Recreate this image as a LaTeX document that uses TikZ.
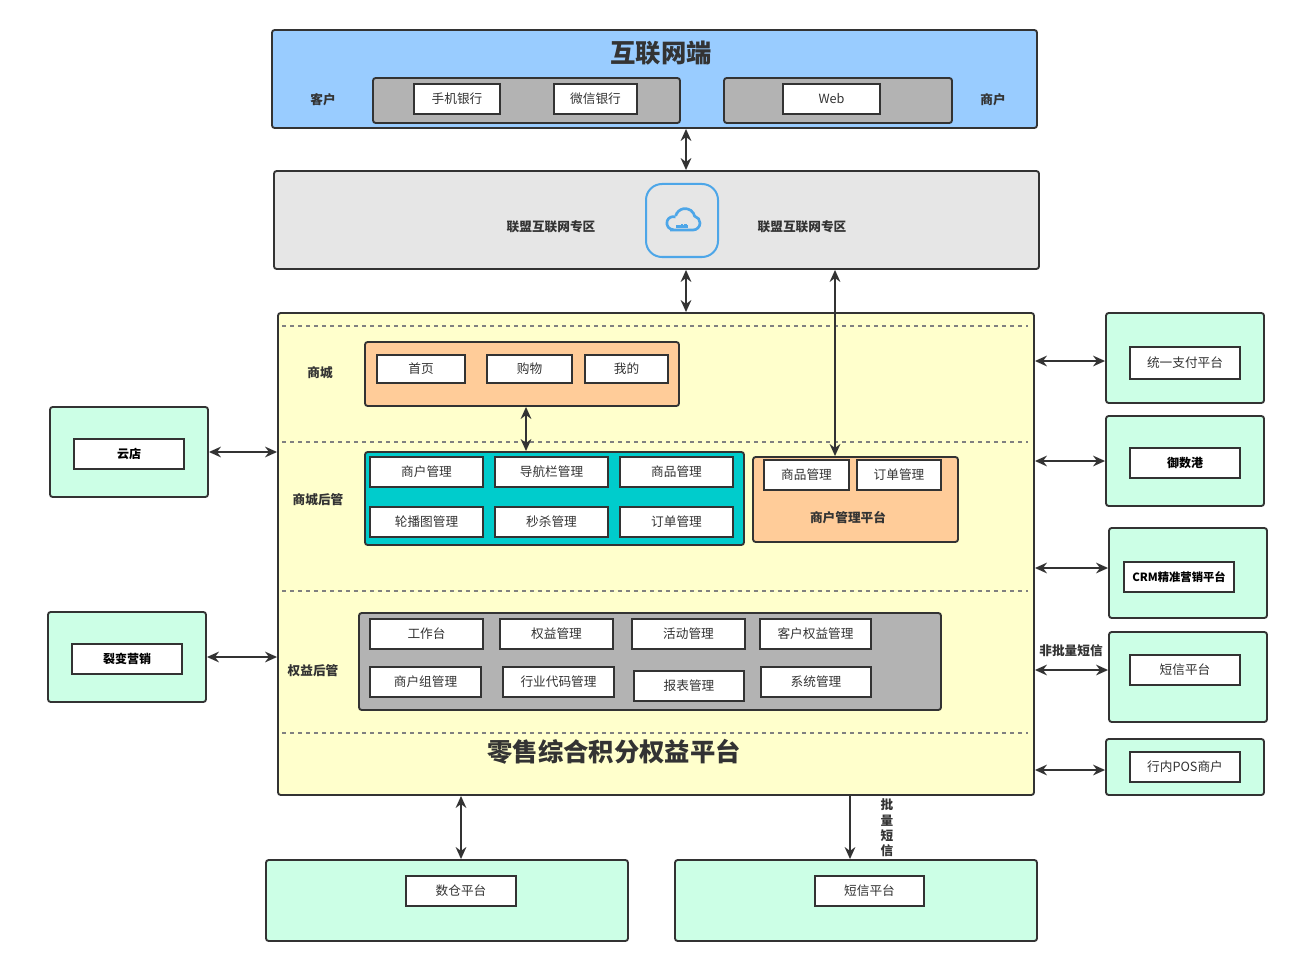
\documentclass[tikz,border=0pt]{standalone}
\usepackage{fontspec}
\setmainfont{Noto Sans CJK SC}
\usetikzlibrary{fit,arrows.meta}
\definecolor{blueT}{HTML}{99CCFF}
\definecolor{grayZ}{HTML}{E6E6E6}
\definecolor{grayB}{HTML}{B3B3B3}
\definecolor{yel}{HTML}{FFFFCC}
\definecolor{ora}{HTML}{FFCC99}
\definecolor{teal}{HTML}{00CCCC}
\definecolor{mint}{HTML}{CCFFE6}
\definecolor{ln}{HTML}{333333}
\definecolor{cl}{HTML}{4DA6E8}
\tikzset{
 bx/.style={draw=ln,line width=1.4pt,rounded corners=2pt,inner sep=0pt},
 btn/.style={draw=ln,line width=1.2pt,fill=white,inner sep=0pt},
 t/.style={font=\fontsize{9.5}{10}\selectfont,text=ln},
 tb/.style={font=\fontsize{9.5}{10}\selectfont\bfseries,text=ln},
 tk/.style={font=\fontsize{9}{10}\selectfont\bfseries,text=black},
 ar/.style={line width=1.5pt,draw=ln,{Stealth[length=9pt,width=8pt]}-{Stealth[length=9pt,width=8pt]}},
 ar1/.style={line width=1.5pt,draw=ln,-{Stealth[length=9pt,width=8pt]}},
 dsh/.style={draw=gray,dashed,line width=0.8pt},
}
\newcommand\Bx[6]{\node[#1,fit={(#2,#3)(#4,#5)}] (#6) {};}
\newcommand\Bt[7]{\node[#1,fit={(#2,#3)(#4,#5)}] (#6) {}; \node[t] at (#6) {#7};}
\begin{document}
\begin{tikzpicture}[x=0.75pt,y=-0.75pt]
\useasboundingbox (0,0) rectangle (1291,966);
% top
\Bx{bx,fill=blueT}{272}{30}{1037}{128}{top}
\node[font=\fontsize{19}{20}\selectfont\bfseries,text=ln] at (661,53) {互联网端};
\node[tb] at (323,100) {客户};
\node[tb] at (993,100) {商户};
\Bx{bx,fill=grayB}{373}{78}{680}{123}{g1}
\Bx{bx,fill=grayB}{724}{78}{952}{123}{g2}
\Bt{btn}{414}{84}{500}{114}{b1}{手机银行}
\Bt{btn}{554}{84}{637}{114}{b2}{微信银行}
\Bt{btn}{783}{84}{880}{114}{b3}{Web}
% zone
\Bx{bx,fill=grayZ}{274}{171}{1039}{269}{zone}
\node[tb] at (551,227) {联盟互联网专区};
\node[tb] at (802,227) {联盟互联网专区};
\node[draw=cl,line width=1.5pt,rounded corners=12pt,inner sep=0pt,fit={(646,184)(718,257)}] (cloud) {};
\begin{scope}[shift={(682,221)},x=0.75pt,y=0.75pt,draw=cl,line width=2pt]
 \draw[cl,line width=2pt] (-12,-9) -- (11,-9) arc(-90:75:7) ;
 \draw[cl,line width=2pt] (12.8,4.3) arc(10:165:9.8);
 \draw[cl,line width=2pt] (-6.5,4) arc(70:270:6.5);
 \draw[cl,line width=1.6pt] (-6,-5.5) -- (6,-5.5) (0,-5.5)--(0,-3) (3.5,-5.5)--(3.5,-3);
\end{scope}
\coordinate (c686) at (686,128);
\draw[ar] (top.south -| c686) -- (zone.north -| c686);
% main
\Bx{bx,fill=yel}{278}{313}{1034}{795}{main}
\draw[ar] (zone.south -| c686) -- (main.north -| c686);
\foreach \yy in {326,442,591,733} \draw[dsh] (282,\yy) -- (1028,\yy);
\node[tb] at (320,373) {商城};
\Bx{bx,fill=ora}{365}{342}{679}{406}{mall}
\Bt{btn}{377}{355}{465}{383}{m1}{首页}
\Bt{btn}{487}{355}{572}{383}{m2}{购物}
\Bt{btn}{585}{355}{668}{383}{m3}{我的}
\node[tb] at (318,500) {商城后管};
\Bx{bx,fill=teal}{365}{452}{744}{545}{back}
\coordinate (c526) at (526,406);
\draw[ar] (mall.south -| c526) -- (back.north -| c526);
\Bt{btn}{370}{457}{483}{487}{k1}{商户管理}
\Bt{btn}{495}{457}{608}{487}{k2}{导航栏管理}
\Bt{btn}{620}{457}{733}{487}{k3}{商品管理}
\Bt{btn}{370}{507}{483}{537}{k4}{轮播图管理}
\Bt{btn}{495}{507}{608}{537}{k5}{秒杀管理}
\Bt{btn}{620}{507}{733}{537}{k6}{订单管理}
\Bx{bx,fill=ora}{753}{457}{958}{542}{mgr}
\Bt{btn}{764}{460}{849}{490}{p1}{商品管理}
\Bt{btn}{857}{460}{941}{490}{p2}{订单管理}
\node[tb] at (848,518) {商户管理平台};
\coordinate (c835) at (835,300);
\draw[ar] (zone.south -| c835) -- (mgr.north -| c835);
\node[tb] at (313,671) {权益后管};
\Bx{bx,fill=grayB}{359}{613}{941}{710}{rights}
\Bt{btn}{370}{619}{483}{649}{r1}{工作台}
\Bt{btn}{500}{619}{613}{649}{r2}{权益管理}
\Bt{btn}{632}{619}{745}{649}{r3}{活动管理}
\Bt{btn}{760}{619}{871}{649}{r4}{客户权益管理}
\Bt{btn}{370}{667}{481}{697}{r5}{商户组管理}
\Bt{btn}{503}{667}{614}{697}{r6}{行业代码管理}
\Bt{btn}{634}{671}{744}{701}{r7}{报表管理}
\Bt{btn}{761}{667}{871}{697}{r8}{系统管理}
\node[font=\fontsize{19}{20}\selectfont\bfseries,text=ln] at (614,752) {零售综合积分权益平台};
% left
\Bx{bx,fill=mint}{50}{407}{208}{497}{L1}
\node[btn,fit={(74,439)(184,469)}] (L1i) {}; \node[tk] at (L1i) {云店};
\draw[ar] (L1.east) -- (main.west |- L1.east);
\Bx{bx,fill=mint}{48}{612}{206}{702}{L2}
\node[btn,fit={(72,644)(182,674)}] (L2i) {}; \node[tk] at (L2i) {裂变营销};
\draw[ar] (L2.east) -- (main.west |- L2.east);
% right
\Bx{bx,fill=mint}{1106}{313}{1264}{403}{R1}
\Bt{btn}{1130}{347}{1240}{379}{R1i}{统一支付平台}
\draw[ar] (main.east |- 0,361) -- (R1.west |- 0,361);
\Bx{bx,fill=mint}{1106}{416}{1264}{506}{R2}
\node[btn,fit={(1130,448)(1240,478)}] (R2i) {}; \node[tk] at (R2i) {御数港};
\draw[ar] (main.east |- R2.west) -- (R2.west);
\Bx{bx,fill=mint}{1109}{528}{1267}{618}{R3}
\node[btn,fit={(1124,562)(1234,592)}] (R3i) {}; \node[tk,font=\fontsize{8.5}{10}\selectfont\bfseries] at (R3i) {CRM精准营销平台};
\draw[ar] (main.east |- 0,568) -- (R3.west |- 0,568);
\Bx{bx,fill=mint}{1109}{632}{1267}{722}{R4}
\Bt{btn}{1130}{655}{1240}{685}{R4i}{短信平台}
\draw[ar] (main.east |- 0,670) -- (R4.west |- 0,670);
\node[tb] at (1071,651) {非批量短信};
\Bx{bx,fill=mint}{1106}{739}{1264}{795}{R5}
\Bt{btn}{1130}{752}{1240}{782}{R5i}{行内POS商户}
\draw[ar] (main.east |- 0,770) -- (R5.west |- 0,770);
% bottom
\Bx{bx,fill=mint}{266}{860}{628}{941}{B1}
\Bt{btn}{406}{876}{516}{906}{B1i}{数仓平台}
\draw[ar] (main.south -| 461,0) -- (B1.north -| 461,0);
\Bx{bx,fill=mint}{675}{860}{1037}{941}{B2}
\Bt{btn}{815}{876}{924}{906}{B2i}{短信平台}
\draw[ar1] (main.south -| 850,0) -- (B2.north -| 850,0);
\node[tb,align=center,font=\fontsize{9.5}{11.5}\selectfont\bfseries] at (887,828) {批\\量\\短\\信};
\end{tikzpicture}
\end{document}
